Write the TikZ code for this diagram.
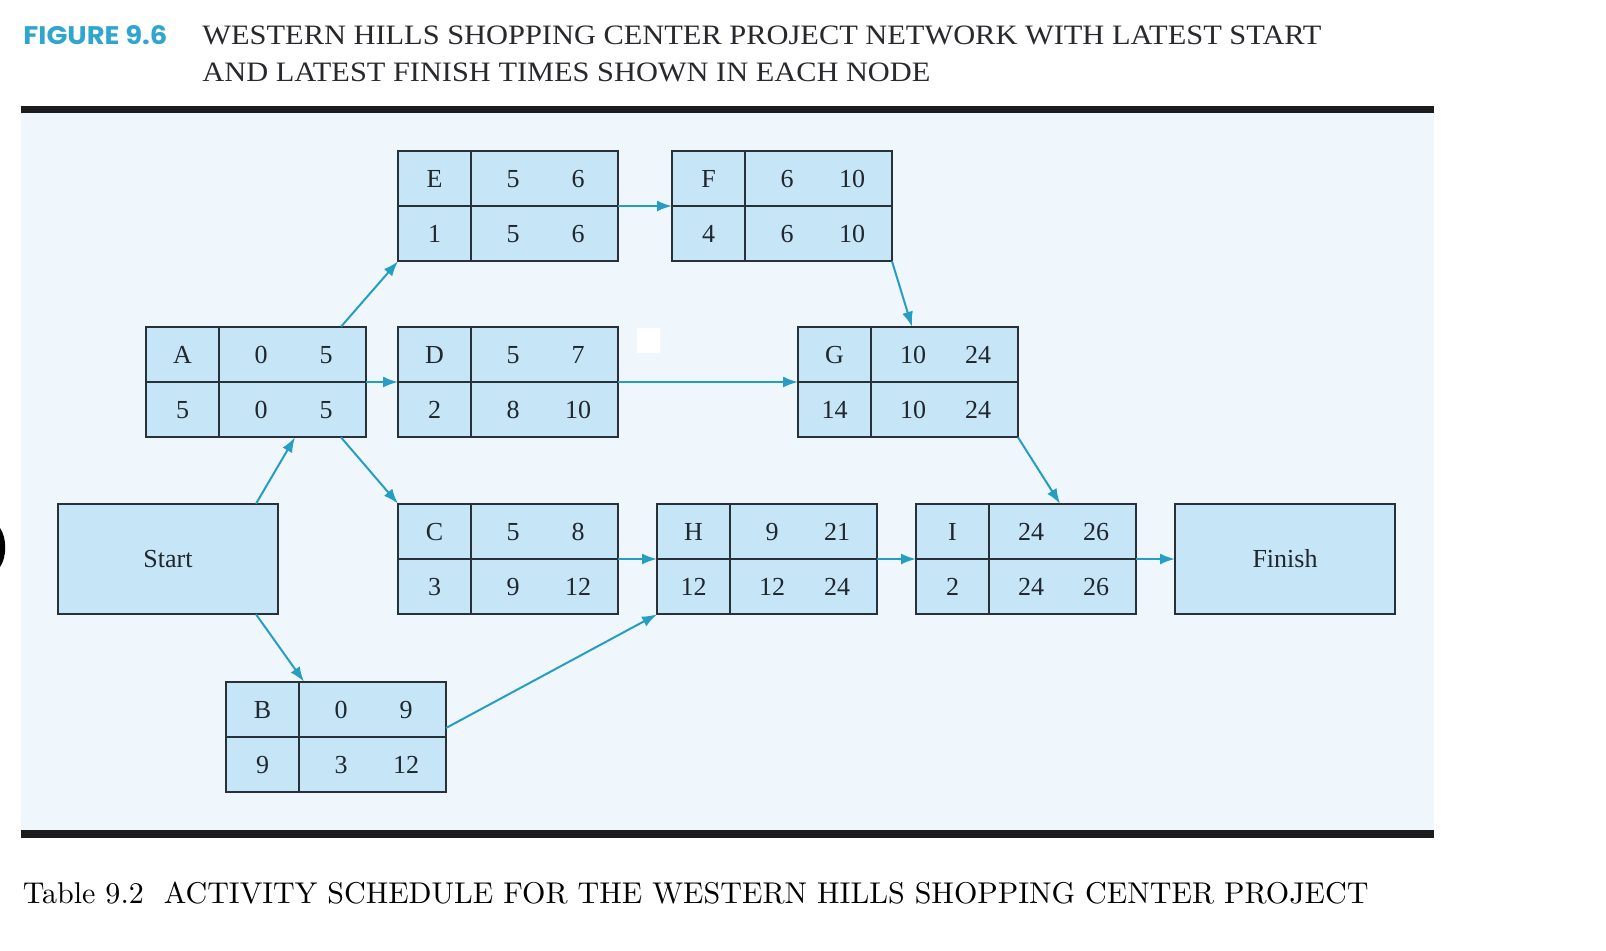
\documentclass[tikz,border=0pt]{standalone}
\usepackage{fontspec}
\usepackage{graphicx}
\usetikzlibrary{calc,arrows.meta}
\newfontfamily\tms{Liberation Serif}
\newfontfamily\figsans{Poppins}
\definecolor{bgblue}{RGB}{240,247,252}
\definecolor{boxblue}{RGB}{198,229,246}
\definecolor{boxedge}{RGB}{40,48,58}
\definecolor{arrcyan}{RGB}{38,158,196}
\definecolor{titlecyan}{RGB}{48,166,206}
\definecolor{rulecol}{RGB}{28,28,30}
\definecolor{titlegray}{RGB}{40,40,45}
\newcommand\mkact[9]{%
  \node[abox] (#1) at (#2,#3) {};
  \draw[boxline] ($(#1.north west)+(73,0)$) -- ($(#1.south west)+(73,0)$);
  \draw[boxline] (#1.west) -- (#1.east);
  \node[txt] (#1-name) at ($(#1.north west)+(36.5,28)$) {#4};
  \node[txt] (#1-dur)  at ($(#1.north west)+(36.5,83)$) {#5};
  \node[txt] (#1-es)   at ($(#1.north west)+(115,28)$) {#6};
  \node[txt] (#1-ef)   at ($(#1.north west)+(180,28)$) {#7};
  \node[txt] (#1-ls)   at ($(#1.north west)+(115,83)$) {#8};
  \node[txt] (#1-lf)   at ($(#1.north west)+(180,83)$) {#9};
}
\begin{document}
\begin{tikzpicture}[x=0.5pt,y=-0.5pt,
  abox/.style={draw=boxedge, fill=boxblue, line width=1pt, rectangle,
    minimum width=110pt, minimum height=55.3pt, inner sep=0pt, outer sep=0pt,
    font=\tms\fontsize{13}{15}\selectfont, text=boxedge!80!black},
  boxline/.style={draw=boxedge, line width=1pt},
  txt/.style={font=\tms\fontsize{13}{15}\selectfont, text=boxedge!80!black, inner sep=0pt},
  arr/.style={draw=arrcyan, line width=1pt, -{Latex[length=7.5pt,width=5.5pt]}},
  rulebar/.style={draw=rulecol, line width=3.6pt},
]
\useasboundingbox (0,0) rectangle (1606,950);
\fill[white] (0,0) rectangle (1606,950);
% background panel and rules
\fill[bgblue] (20.5,113) rectangle (1434,830);
\draw[rulebar] (20.5,109.5) -- (1434,109.5);
\draw[rulebar] (20.5,834) -- (1434,834);
% titles
\node[anchor=base west, inner sep=0pt, text=titlecyan] (fig) at (23,44)
  {\resizebox{72pt}{9.5pt}{\figsans\bfseries FIGURE 9.6}};
\node[anchor=base west, inner sep=0pt, text=titlegray] (t1) at (202,44)
  {\resizebox{559.5pt}{9.3pt}{\tms WESTERN HILLS SHOPPING CENTER PROJECT NETWORK WITH LATEST START}};
\node[anchor=base west, inner sep=0pt, text=titlegray] (t2) at (202,81)
  {\resizebox{364pt}{9.3pt}{\tms AND LATEST FINISH TIMES SHOWN IN EACH NODE}};
\node[anchor=base west, inner sep=0pt] (cap) at (22.5,903)
  {\resizebox{672.8pt}{!}{Table 9.2\ \ ACTIVITY SCHEDULE FOR THE WESTERN HILLS SHOPPING CENTER PROJECT}};
% stray marks
\fill[black] (0,528) .. controls (7,538) and (7,557) .. (0,567) -- cycle;
\fill[white] (637,328) rectangle (660,353);
% nodes
\node[abox] (Start) at (168,559) {Start};
\node[abox] (Finish) at (1285,559) {Finish};
\mkact{E}{508}{206}{E}{1}{5}{6}{5}{6}
\mkact{F}{782}{206}{F}{4}{6}{10}{6}{10}
\mkact{A}{256}{382}{A}{5}{0}{5}{0}{5}
\mkact{D}{508}{382}{D}{2}{5}{7}{8}{10}
\mkact{G}{908}{382}{G}{14}{10}{24}{10}{24}
\mkact{C}{508}{559}{C}{3}{5}{8}{9}{12}
\mkact{H}{767}{559}{H}{12}{9}{21}{12}{24}
\mkact{I}{1026}{559}{I}{2}{24}{26}{24}{26}
\mkact{B}{336}{737}{B}{9}{0}{9}{3}{12}
% connectors
\draw[arr] ($(Start.north)+(88,0)$) -- ($(A.south)+(39,0)$);
\draw[arr] ($(Start.south)+(88,0)$) -- ($(B.north)+(-32,0)$);
\draw[arr] ($(A.north)+(85,0)$) -- (E.south west);
\draw[arr] (A.east) -- (D.west);
\draw[arr] ($(A.south)+(85,0)$) -- (C.north west);
\draw[arr] (E.east) -- (F.west);
\draw[arr] (F.south east) -- ($(G.north)+(4,0)$);
\draw[arr] (D.east) -- (G.west);
\draw[arr] (G.south east) -- ($(I.north)+(34,0)$);
\draw[arr] (C.east) -- (H.west);
\draw[arr] ($(B.east)+(0,-9)$) -- (H.south west);
\draw[arr] (H.east) -- (I.west);
\draw[arr] (I.east) -- (Finish.west);
\end{tikzpicture}
\end{document}
